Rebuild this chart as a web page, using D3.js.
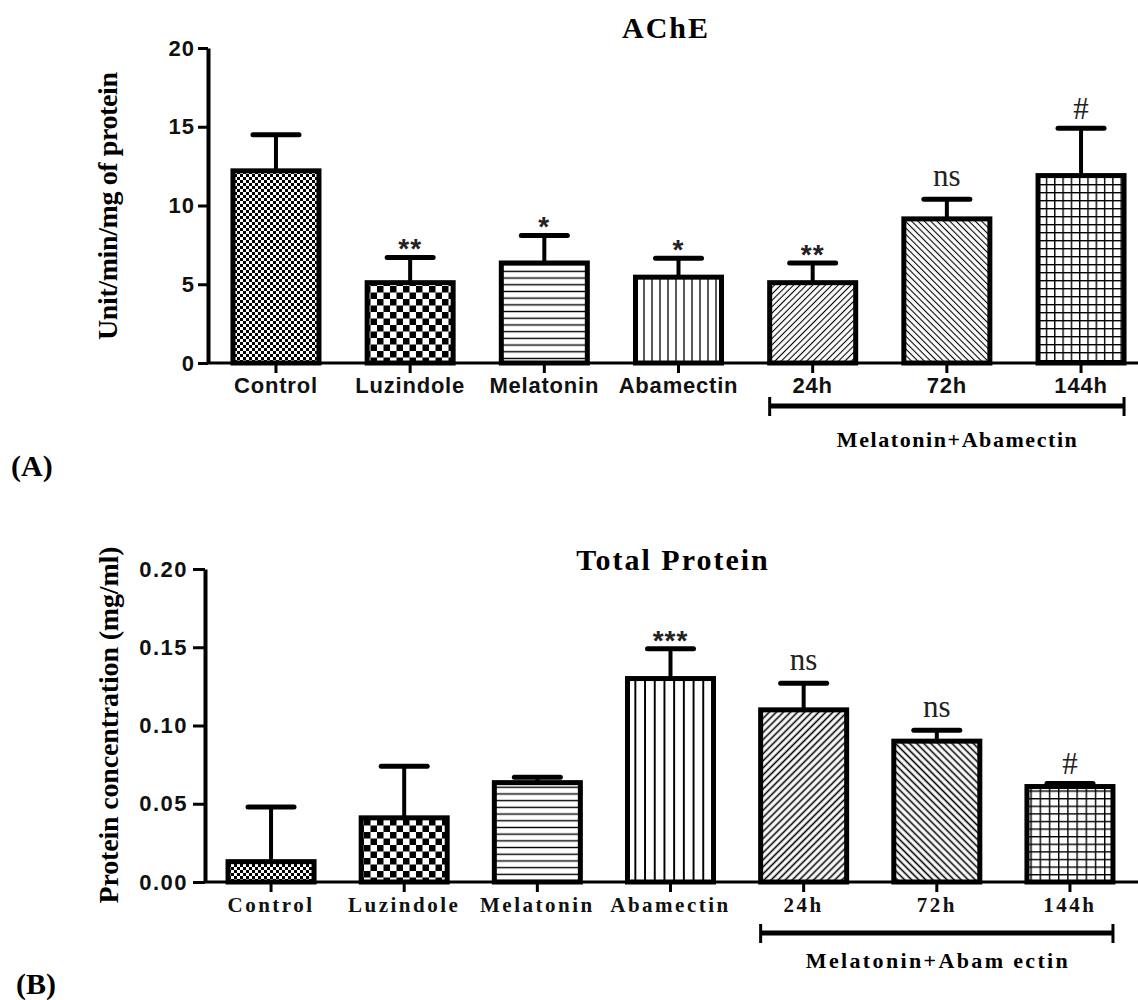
<!DOCTYPE html>
<html>
<head>
<meta charset="utf-8">
<script src="https://cdn.jsdelivr.net/npm/d3@7"></script>
<style>
  body { margin: 0; background: #fff; }
  svg { display: block; }
</style>
</head>
<body>
<div id="chart"></div>
<script>
'use strict'

// data
const groups = ["Control", "Luzindole", "Melatonin", "Abamectin", "24h", "72h", "144h"]

const acheMean = [12.2, 5.1, 6.35, 5.45, 5.1, 9.15, 11.9]
const acheErr = [2.3, 1.6, 1.75, 1.2, 1.25, 1.25, 3.0]
const acheSig = ["", "**", "*", "*", "**", "ns", "#"]
const acheTicks = [0, 5, 10, 15, 20]

const protMean = [0.013, 0.041, 0.0635, 0.13, 0.11, 0.09, 0.061]
const protErr = [0.035, 0.033, 0.0035, 0.019, 0.017, 0.007, 0.002]
const protSig = ["", "", "", "***", "ns", "ns", "#"]
const protTicks = [0, 0.05, 0.10, 0.15, 0.20]

const comboGroups = ["24h", "72h", "144h"]

const width = 1138
const height = 1000
const sans = "'Liberation Sans', Arial, sans-serif"
const serif = "'Liberation Serif', 'Times New Roman', serif"

let svg = d3.select("#chart").append("svg")
  .attr("width", width)
  .attr("height", height)

svg.append("rect").attr("width", width).attr("height", height).attr("fill", "#fff")

let defs = svg.append("defs")

/*
  hatch patterns, one per group
*/
function makePatterns(prefix, o) {
  // fine checker
  let p = defs.append("pattern").attr("id", prefix + "fine")
    .attr("patternUnits", "userSpaceOnUse").attr("width", 6).attr("height", 6)
  p.append("rect").attr("width", 6).attr("height", 6).attr("fill", "#fff")
  p.append("rect").attr("width", 3).attr("height", 3).attr("fill", "#000")
  p.append("rect").attr("x", 3).attr("y", 3).attr("width", 3).attr("height", 3).attr("fill", "#000")

  // big checker
  let c = o.check
  p = defs.append("pattern").attr("id", prefix + "check")
    .attr("patternUnits", "userSpaceOnUse").attr("width", c * 2).attr("height", c * 2)
  p.append("rect").attr("width", c * 2).attr("height", c * 2).attr("fill", "#fff")
  p.append("rect").attr("width", c).attr("height", c).attr("fill", "#000")
  p.append("rect").attr("x", c).attr("y", c).attr("width", c).attr("height", c).attr("fill", "#000")

  // horizontal lines
  p = defs.append("pattern").attr("id", prefix + "hline")
    .attr("patternUnits", "userSpaceOnUse").attr("width", 10).attr("height", o.h)
  p.append("rect").attr("width", 10).attr("height", o.h).attr("fill", "#fff")
  p.append("line").attr("x1", 0).attr("x2", 10).attr("y1", o.h / 2).attr("y2", o.h / 2)
    .attr("stroke", "#000").attr("stroke-width", 1.4)

  // vertical lines
  p = defs.append("pattern").attr("id", prefix + "vline")
    .attr("patternUnits", "userSpaceOnUse").attr("width", o.v).attr("height", 10)
  p.append("rect").attr("width", o.v).attr("height", 10).attr("fill", "#fff")
  p.append("line").attr("y1", 0).attr("y2", 10).attr("x1", o.v / 2).attr("x2", o.v / 2)
    .attr("stroke", "#000").attr("stroke-width", o.vw)

  // diagonals
  let dirs = [["diagf", 45], ["diagb", -45]]
  dirs.forEach(function (d) {
    let q = defs.append("pattern").attr("id", prefix + d[0])
      .attr("patternUnits", "userSpaceOnUse").attr("width", o.d).attr("height", o.d)
      .attr("patternTransform", "rotate(" + d[1] + ")")
    q.append("rect").attr("width", o.d).attr("height", o.d).attr("fill", "#fff")
    q.append("line").attr("y1", 0).attr("y2", o.d).attr("x1", o.d / 2).attr("x2", o.d / 2)
      .attr("stroke", "#000").attr("stroke-width", o.dw)
  })

  // grid
  p = defs.append("pattern").attr("id", prefix + "grid")
    .attr("patternUnits", "userSpaceOnUse").attr("width", o.gx).attr("height", o.gy)
  p.append("rect").attr("width", o.gx).attr("height", o.gy).attr("fill", "#fff")
  p.append("line").attr("x1", 0).attr("x2", o.gx).attr("y1", 0.7).attr("y2", 0.7)
    .attr("stroke", "#000").attr("stroke-width", 1.4)
  p.append("line").attr("y1", 0).attr("y2", o.gy).attr("x1", 0.7).attr("x2", 0.7)
    .attr("stroke", "#000").attr("stroke-width", 1.4)
}

makePatterns("a-", {check: 6.5, h: 6.7, v: 8, vw: 1.3, d: 4.5, dw: 1.1, gx: 8.3, gy: 8})
makePatterns("b-", {check: 6.5, h: 6.7, v: 9.7, vw: 2, d: 5, dw: 1.6, gx: 9.2, gy: 7.6})

const patternNames = ["fine", "check", "hline", "vline", "diagf", "diagb", "grid"]

/*
  one panel
*/
function drawPanel(cfg) {
  let x = d3.scaleBand()
    .domain(groups)
    .range([cfg.x0, cfg.x1])
    .paddingInner(cfg.pi)
    .paddingOuter(cfg.po)

  let y = d3.scaleLinear()
    .domain([0, cfg.max])
    .range([cfg.yBottom, cfg.yTop])

  let g = svg.append("g")

  // bars
  g.selectAll(".bar")
    .data(cfg.mean)
    .enter()
    .append("rect")
    .attr("class", "bar")
    .attr("x", (d, i) => x(groups[i]))
    .attr("y", d => y(d))
    .attr("width", x.bandwidth())
    .attr("height", d => y(0) - y(d))
    .attr("fill", (d, i) => "url(#" + cfg.prefix + patternNames[i] + ")")
    .attr("stroke", "#000")
    .attr("stroke-width", 5)

  // error bars (upper only)
  let eb = g.selectAll(".err")
    .data(cfg.mean)
    .enter()
    .append("g")
    .attr("class", "err")
  eb.append("line")
    .attr("x1", (d, i) => x(groups[i]) + x.bandwidth() / 2)
    .attr("x2", (d, i) => x(groups[i]) + x.bandwidth() / 2)
    .attr("y1", d => y(d))
    .attr("y2", (d, i) => y(d + cfg.err[i]))
    .attr("stroke", "#000").attr("stroke-width", 4)
  eb.append("line")
    .attr("x1", (d, i) => x(groups[i]) + x.bandwidth() / 2 - 23)
    .attr("x2", (d, i) => x(groups[i]) + x.bandwidth() / 2 + 23)
    .attr("y1", (d, i) => y(d + cfg.err[i]))
    .attr("y2", (d, i) => y(d + cfg.err[i]))
    .attr("stroke", "#000").attr("stroke-width", 5)
    .attr("stroke-linecap", "round")

  // significance marks
  g.selectAll(".sig")
    .data(cfg.sig)
    .enter()
    .append("text")
    .attr("class", "sig")
    .attr("x", (d, i) => x(groups[i]) + x.bandwidth() / 2)
    .attr("y", function (d, i) {
      let top = y(cfg.mean[i] + cfg.err[i])
      if (d == "ns") return top - 13
      if (d == "#") return top - 9
      return top + 1
    })
    .attr("text-anchor", "middle")
    .attr("font-family", d => d[0] == "*" ? sans : serif)
    .attr("font-weight", d => d[0] == "*" ? "bold" : "normal")
    .attr("font-size", d => d[0] == "*" ? 28 : 31)
    .attr("letter-spacing", d => d[0] == "*" ? 1 : 0)
    .attr("fill", "#222")
    .text(d => d)

  // y axis
  let yAxis = d3.axisLeft(y)
    .tickValues(cfg.ticks)
    .tickFormat(cfg.fmt)
    .tickSize(cfg.tick)
    .tickSizeOuter(0)
    .tickPadding(cfg.tickPad)
  let ya = g.append("g")
    .attr("transform", "translate(" + cfg.x0 + ",0)")
    .call(yAxis)
  ya.select(".domain").attr("stroke-width", 4)
  ya.selectAll(".tick line").attr("stroke-width", 3)
  ya.selectAll(".tick text")
    .attr("font-family", sans).attr("font-weight", "bold")
    .attr("font-size", 22).attr("letter-spacing", cfg.yls).attr("fill", "#111")

  // x axis
  let xAxis = d3.axisBottom(x)
    .tickSize(10)
    .tickSizeOuter(0)
    .tickPadding(cfg.xPad)
  let xa = g.append("g")
    .attr("transform", "translate(0," + y(0) + ")")
    .call(xAxis)
  xa.select(".domain").remove()
  xa.selectAll(".tick line").attr("stroke-width", 3)
  xa.selectAll(".tick text")
    .attr("font-family", cfg.xFont).attr("font-weight", "bold")
    .attr("font-size", cfg.xSize).attr("letter-spacing", cfg.xls).attr("fill", "#111")
  g.append("line")
    .attr("x1", cfg.x0).attr("x2", width)
    .attr("y1", y(0)).attr("y2", y(0))
    .attr("stroke", "#000").attr("stroke-width", 3)

  // bracket under the combined groups
  let bx1 = x(comboGroups[0])
  let bx2 = x(comboGroups[comboGroups.length - 1]) + x.bandwidth()
  g.append("line")
    .attr("x1", bx1).attr("x2", bx2)
    .attr("y1", cfg.by).attr("y2", cfg.by)
    .attr("stroke", "#000").attr("stroke-width", 5)
  ;[bx1, bx2].forEach(function (bx) {
    g.append("line")
      .attr("x1", bx).attr("x2", bx)
      .attr("y1", cfg.by - 9).attr("y2", cfg.by + 10)
      .attr("stroke", "#000").attr("stroke-width", 3)
  })
  g.append("text")
    .attr("x", (bx1 + bx2) / 2 + cfg.bdx)
    .attr("y", cfg.bty)
    .attr("text-anchor", "middle")
    .attr("font-family", serif).attr("font-weight", "bold")
    .attr("font-size", 22)
    .attr("textLength", cfg.btw).attr("lengthAdjust", "spacing")
    .text(cfg.bracketText)

  // title
  g.append("text")
    .attr("x", cfg.titleX).attr("y", cfg.titleY)
    .attr("text-anchor", "middle")
    .attr("font-family", serif).attr("font-weight", "bold")
    .attr("font-size", 30).attr("letter-spacing", 2)
    .text(cfg.title)

  // y axis title
  g.append("text")
    .attr("transform", "translate(" + cfg.ytx + "," + cfg.yty + ")rotate(-90)")
    .attr("text-anchor", "middle")
    .attr("font-family", serif).attr("font-weight", "bold")
    .attr("font-size", 28)
    .attr("textLength", cfg.ytw).attr("lengthAdjust", "spacing")
    .text(cfg.yTitle)

  // panel letter
  g.append("text")
    .attr("x", cfg.lx).attr("y", cfg.ly)
    .attr("font-family", serif).attr("font-weight", "bold")
    .attr("font-size", 30)
    .text(cfg.letter)
}

drawPanel({
  prefix: "a-",
  mean: acheMean, err: acheErr, sig: acheSig, ticks: acheTicks,
  max: 20, fmt: d3.format("d"),
  x0: 208, x1: 1149, pi: 0.359, po: 0.186,
  yTop: 48, yBottom: 363,
  tick: 10, tickPad: 3, yls: 1,
  xPad: 4, xFont: sans, xSize: 22, xls: 0.8,
  by: 406, bty: 447, bdx: 10, btw: 240, bracketText: "Melatonin+Abamectin",
  title: "AChE", titleX: 666, titleY: 38,
  yTitle: "Unit/min/mg of protein", ytx: 117, yty: 206, ytw: 268,
  letter: "(A)", lx: 11, ly: 476
})

drawPanel({
  prefix: "b-",
  mean: protMean, err: protErr, sig: protSig, ticks: protTicks,
  max: 0.2, fmt: d3.format(".2f"),
  x0: 205, x1: 1136, pi: 0.354, po: 0.173,
  yTop: 569, yBottom: 882,
  tick: 12, tickPad: 5, yls: 1.5,
  xPad: 5, xFont: serif, xSize: 21, xls: 2.5,
  by: 933, bty: 968, bdx: 0, btw: 262, bracketText: "Melatonin+Abam ectin",
  title: "Total Protein", titleX: 673, titleY: 570,
  yTitle: "Protein concentration (mg/ml)", ytx: 118, yty: 725, ytw: 357,
  letter: "(B)", lx: 16, ly: 994
})
</script>
</body>
</html>
